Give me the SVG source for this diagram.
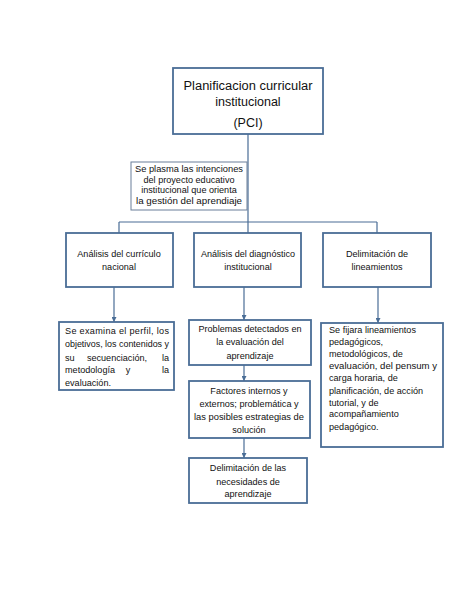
<svg xmlns="http://www.w3.org/2000/svg" width="474" height="613" viewBox="0 0 474 613">
<defs>
<marker id="ah" viewBox="0 0 6 6" refX="6" refY="3" markerWidth="5" markerHeight="5" markerUnits="userSpaceOnUse" orient="auto">
<path d="M0,0 L6,3 L0,6 z" fill="#4a6d96"/>
</marker>
<style>
.box{fill:#fff;stroke:#4a6d96;stroke-width:1.8}
.thin{fill:#fff;stroke:#6b7f99;stroke-width:1}
.ln{fill:none;stroke:#4a6d96;stroke-width:1.2}
.t{font-family:"Liberation Sans",Arial,sans-serif;font-size:9.1px;fill:#111}
.c{text-anchor:middle}
.title{font-family:"Liberation Sans",Arial,sans-serif;font-size:12.5px;fill:#111;text-anchor:middle}
</style>
</defs>
<rect width="474" height="613" fill="#fff"/>
<g id="connectors">
<path class="ln" d="M248,134 V222 M119,222 H377 M119,222 V233 M248,222 V233 M377,222 V233"/>
<path class="ln" d="M114,287 V322" marker-end="url(#ah)"/>
<path class="ln" d="M244,287 V320" marker-end="url(#ah)"/>
<path class="ln" d="M378,287 V323" marker-end="url(#ah)"/>
<path class="ln" d="M244,365 V381" marker-end="url(#ah)"/>
<path class="ln" d="M244,438 V458" marker-end="url(#ah)"/>
</g>
<g id="pci">
<rect class="box" x="173" y="68" width="150" height="66"/>
<text class="title" x="248" y="90" textLength="129" lengthAdjust="spacingAndGlyphs">Planificacion curricular</text>
<text class="title" x="248" y="106">institucional</text>
<text class="title" x="248" y="127">(PCI)</text>
</g>
<g id="intenciones">
<rect class="thin" x="131" y="162" width="116" height="48"/>
<text class="t c" x="189" y="172" textLength="108" lengthAdjust="spacingAndGlyphs">Se plasma las intenciones</text>
<text class="t c" x="189" y="183">del proyecto educativo</text>
<text class="t c" x="189" y="193">institucional que orienta</text>
<text class="t c" x="189" y="204" textLength="106" lengthAdjust="spacingAndGlyphs">la gestión del aprendiaje</text>
</g>
<g id="curriculo">
<rect class="box" x="66" y="233" width="107" height="54"/>
<text class="t c" x="119" y="257">Análisis del currículo</text>
<text class="t c" x="119" y="270">nacional</text>
</g>
<g id="diagnostico">
<rect class="box" x="194" y="233" width="107" height="54"/>
<text class="t c" x="248" y="257" textLength="94" lengthAdjust="spacingAndGlyphs">Análisis del diagnóstico</text>
<text class="t c" x="248" y="270">institucional</text>
</g>
<g id="lineamientos">
<rect class="box" x="323" y="233" width="108" height="54"/>
<text class="t c" x="377" y="257">Delimitación de</text>
<text class="t c" x="377" y="270">lineamientos</text>
</g>
<g id="examina">
<rect class="box" x="59" y="322" width="115" height="68"/>
<text class="t" x="65" y="334" textLength="104" lengthAdjust="spacing">Se examina el perfil, los</text>
<text class="t" x="65" y="347" textLength="104" lengthAdjust="spacingAndGlyphs">objetivos, los contenidos y</text>
<text class="t" x="65" y="361">su</text>
<text class="t c" x="117" y="361">secuenciación,</text>
<text class="t" x="169" y="361" text-anchor="end">la</text>
<text class="t" x="65" y="373">metodología</text>
<text class="t c" x="128" y="373">y</text>
<text class="t" x="169" y="373" text-anchor="end">la</text>
<text class="t" x="65" y="386">evaluación.</text>
</g>
<g id="problemas">
<rect class="box" x="189" y="320" width="122" height="45"/>
<text class="t c" x="250" y="332">Problemas detectados en</text>
<text class="t c" x="250" y="345">la evaluación del</text>
<text class="t c" x="250" y="359">aprendizaje</text>
</g>
<g id="factores">
<rect class="box" x="189" y="381" width="121" height="57"/>
<text class="t c" x="249" y="394">Factores internos y</text>
<text class="t c" x="249" y="407">externos; problemática y</text>
<text class="t c" x="249" y="420" textLength="110" lengthAdjust="spacingAndGlyphs">las posibles estrategias de</text>
<text class="t c" x="249" y="433">solución</text>
</g>
<g id="necesidades">
<rect class="box" x="189" y="458" width="118" height="45"/>
<text class="t c" x="248" y="471">Delimitación de las</text>
<text class="t c" x="248" y="485">necesidades de</text>
<text class="t c" x="248" y="497">aprendizaje</text>
</g>
<g id="fijara">
<rect class="box" x="321" y="323" width="122" height="124"/>
<text class="t" x="329" y="333">Se fijara lineamientos</text>
<text class="t" x="329" y="345">pedagógicos,</text>
<text class="t" x="329" y="357">metodológicos,  de</text>
<text class="t" x="329" y="369" textLength="108" lengthAdjust="spacingAndGlyphs">evaluación, del pensum y</text>
<text class="t" x="329" y="381">carga horaria, de</text>
<text class="t" x="329" y="394">planificación, de acción</text>
<text class="t" x="329" y="406">tutorial, y de</text>
<text class="t" x="329" y="417">acompañamiento</text>
<text class="t" x="329" y="430">pedagógico.</text>
</g>
</svg>
